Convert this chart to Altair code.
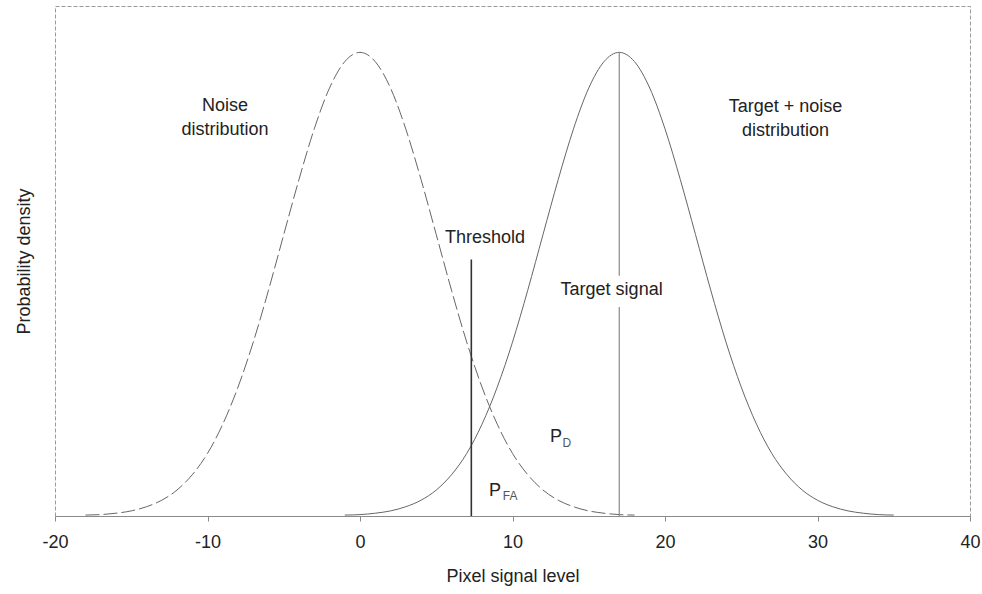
import altair as alt
import pandas as pd

# ---- data (density normalised to peak = 1) ----
noise_x = list(range(-18, 19))
noise_density = [0.002, 0.003, 0.006, 0.011, 0.020, 0.034, 0.056, 0.089, 0.135,
                 0.198, 0.278, 0.375, 0.487, 0.607, 0.726, 0.835, 0.923, 0.980,
                 1.000,
                 0.980, 0.923, 0.835, 0.726, 0.607, 0.487, 0.375, 0.278, 0.198,
                 0.135, 0.089, 0.056, 0.034, 0.020, 0.011, 0.006, 0.003, 0.002]

target_x = list(range(-1, 36))
target_density = [0.002, 0.003, 0.006, 0.011, 0.020, 0.034, 0.056, 0.089, 0.135,
                  0.198, 0.278, 0.375, 0.487, 0.607, 0.726, 0.835, 0.923, 0.980,
                  1.000,
                  0.980, 0.923, 0.835, 0.726, 0.607, 0.487, 0.375, 0.278, 0.198,
                  0.135, 0.089, 0.056, 0.034, 0.020, 0.011, 0.006, 0.003, 0.002]

threshold_level = 7.3
threshold_top = 0.553
target_signal = 17.0
target_signal_top = 1.0
target_gap = [0.451, 0.518]

x_ticks = [-20, -10, 0, 10, 20, 30, 40]

# annotations
main_labels = pd.DataFrame({
    "x": [-8.85, -8.85, 27.9, 27.9, 8.2, 16.5, 12.85, 8.85],
    "y": [0.885, 0.832, 0.882, 0.830, 0.600, 0.488, 0.171, 0.054],
    "text": ["Noise", "distribution", "Target + noise", "distribution",
             "Threshold", "Target signal", "P", "P"],
})
sub_labels = pd.DataFrame({
    "x": [13.57, 9.84],
    "y": [0.158, 0.043],
    "text": ["D", "FA"],
})

FONT = "Liberation Sans"

noise_df = pd.DataFrame({"x": noise_x, "y": noise_density})
target_df = pd.DataFrame({"x": target_x, "y": target_density})
rules_thr = pd.DataFrame({"x": [threshold_level], "y": [0.0], "y2": [threshold_top]})
rules_sig = pd.DataFrame({"x": [target_signal, target_signal],
                          "y": [0.0, target_gap[1]],
                          "y2": [target_gap[0], target_signal_top]})

xscale = alt.Scale(domain=[-20, 40], nice=False, zero=False)
yscale = alt.Scale(domain=[0, 1.1], nice=False)
xaxis = alt.Axis(values=x_ticks, grid=False, labelFlush=False, tickSize=5,
                 labelExpr="'' + datum.value",
                 domainColor="#8a8a8a", tickColor="#8a8a8a", labelColor="#222222",
                 labelFontSize=18, labelFont=FONT, labelPadding=12,
                 titleFontSize=18, titleFont=FONT, titleFontWeight="normal",
                 titleColor="#222222", titlePadding=16)
yaxis = alt.Axis(labels=False, ticks=False, domain=False, grid=False,
                 titleFontSize=18, titleFont=FONT, titleFontWeight="normal",
                 titleColor="#222222", titlePadding=22)

def X():
    return alt.X("x:Q", scale=xscale, axis=xaxis, title="Pixel signal level")

def Y():
    return alt.Y("y:Q", scale=yscale, axis=yaxis, title="Probability density")

noise = alt.Chart(noise_df).mark_line(
    color="#666666", strokeWidth=1, strokeDash=[14, 4], interpolate="monotone"
).encode(x=X(), y=Y())

target = alt.Chart(target_df).mark_line(
    color="#666666", strokeWidth=1, interpolate="monotone"
).encode(x=X(), y=Y())

thr = alt.Chart(rules_thr).mark_rule(color="#333333", strokeWidth=1.6).encode(
    x=X(), y=Y(), y2="y2:Q")

sig = alt.Chart(rules_sig).mark_rule(color="#8a8a8a", strokeWidth=1.2).encode(
    x=X(), y=Y(), y2="y2:Q")

txt = alt.Chart(main_labels).mark_text(
    font=FONT, fontSize=18, color="#222222", align="center", baseline="middle"
).encode(x=X(), y=Y(), text="text:N")

sub = alt.Chart(sub_labels).mark_text(
    font=FONT, fontSize=12, color="#555555", align="center", baseline="middle"
).encode(x=X(), y=Y(), text="text:N")

chart = alt.layer(noise, target, thr, sig, txt, sub).properties(
    width=915, height=510,
    autosize=alt.AutoSizeParams(type="none"),
    padding={"left": 55, "top": 6, "right": 12, "bottom": 78},
    background="white",
).configure_view(
    stroke="#9a9a9a", strokeDash=[4, 2], strokeWidth=1
)

chart.save("out.html", embed_options={"renderer": "svg", "actions": False})
